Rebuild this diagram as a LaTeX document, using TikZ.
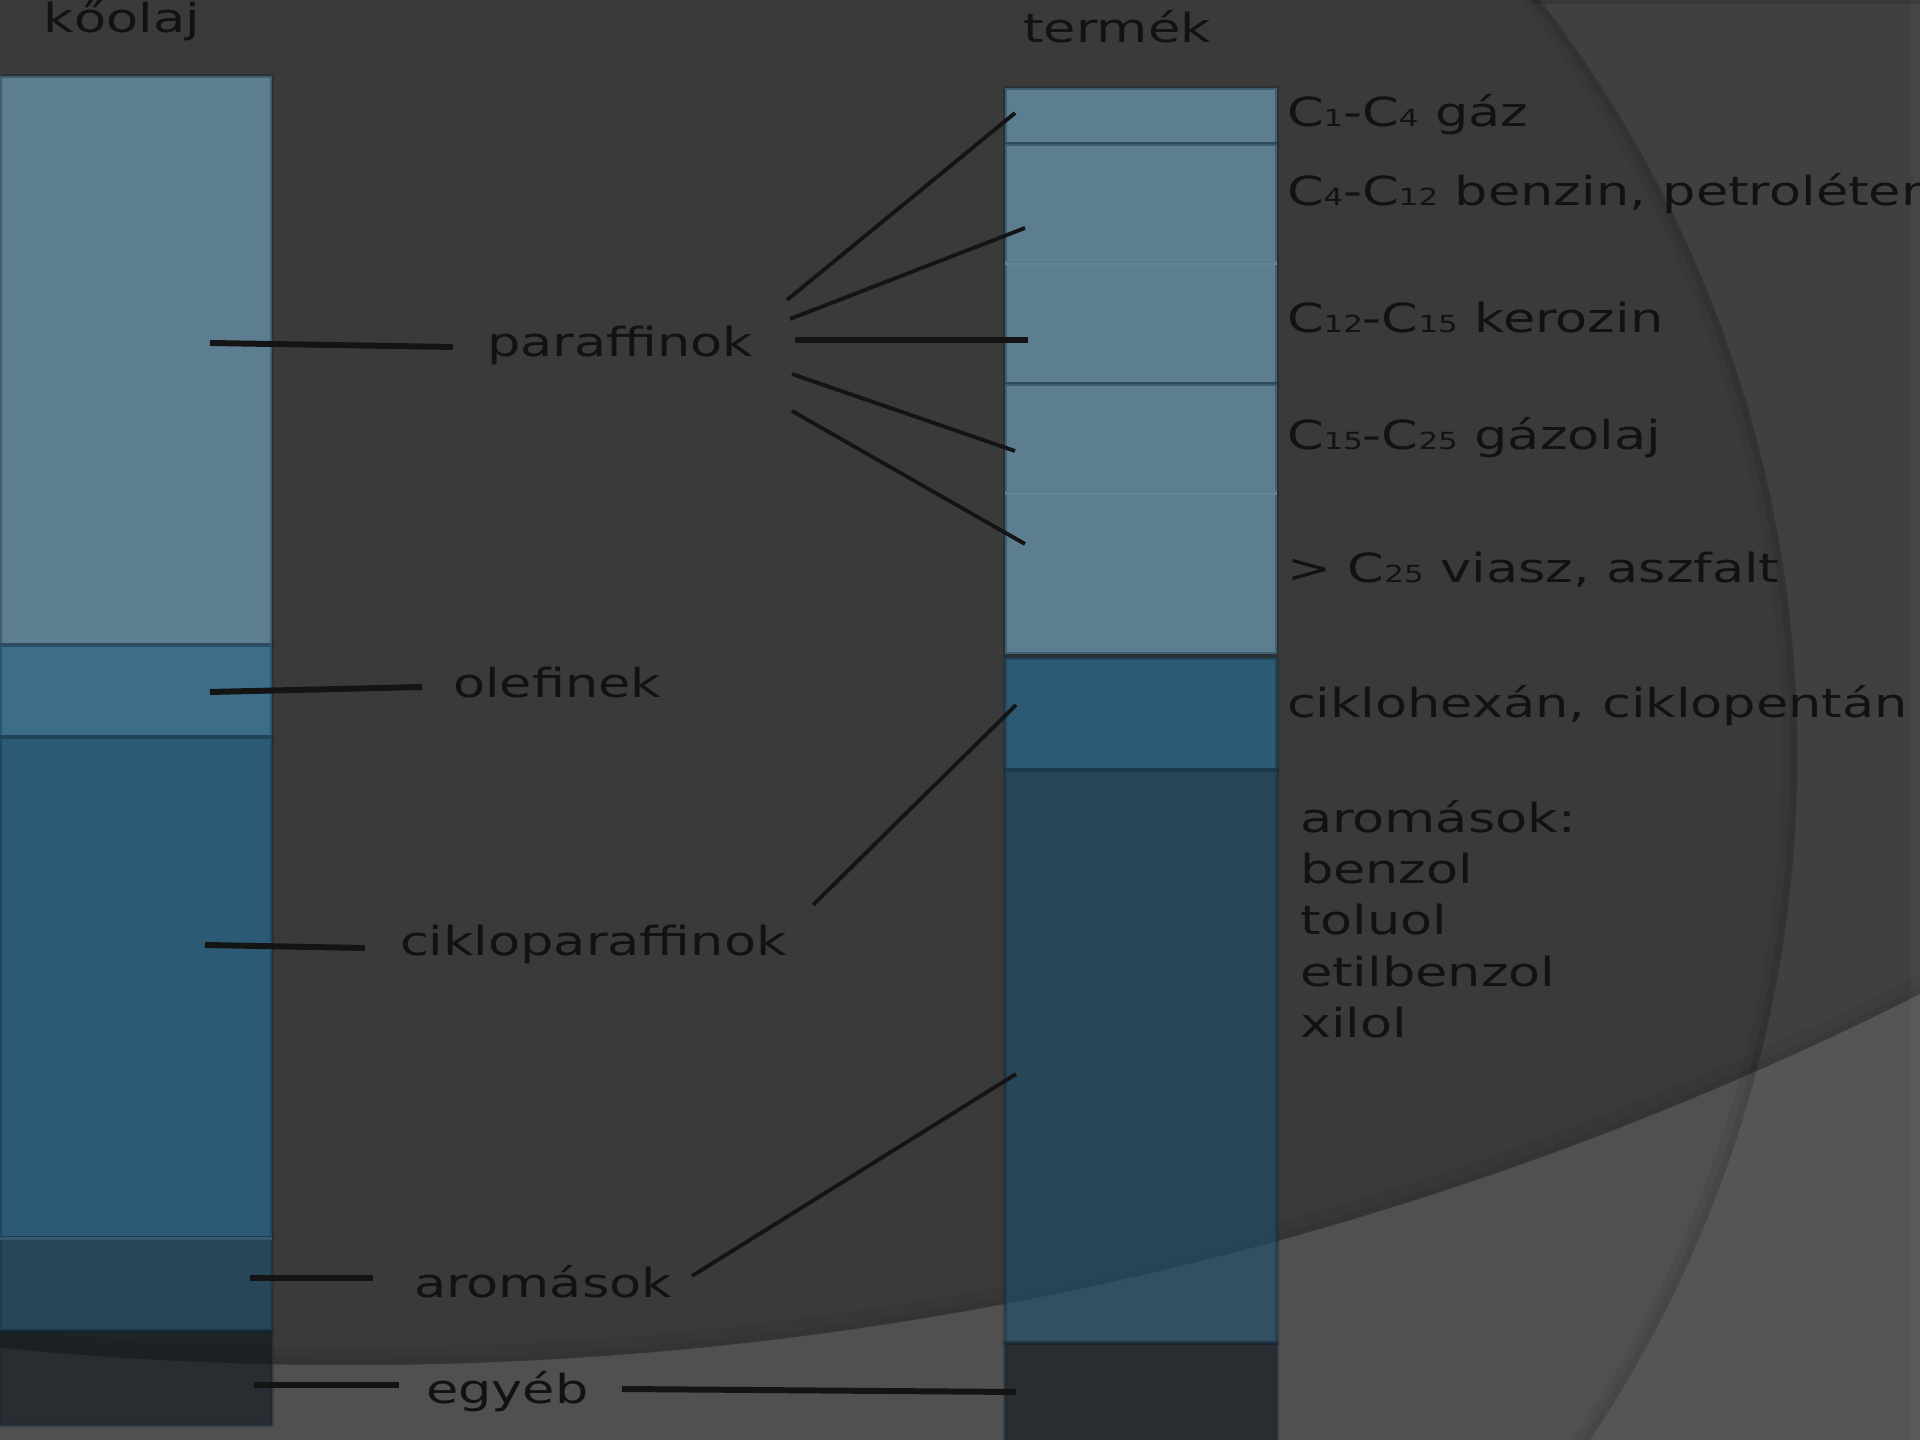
\documentclass[tikz,border=0pt]{standalone}
\usepackage{fontspec}
\setmainfont[FakeStretch=1.31]{DejaVu Sans}
\definecolor{bgc}{HTML}{3A3A3A}
\definecolor{txt}{HTML}{121212}
\definecolor{cpar}{HTML}{79B6D8}
\definecolor{colef}{HTML}{3E99CC}
\definecolor{ccyc}{HTML}{2276A4}
\definecolor{carom}{HTML}{195274}
\definecolor{cegy}{HTML}{091018}
\definecolor{segline}{HTML}{0F2533}
\definecolor{lightdiv}{HTML}{8FB6CC}
\definecolor{wire}{HTML}{141414}
\newcommand\csub[1]{{\fontsize{6.7pt}{7pt}\selectfont #1}}
\begin{document}
\begin{tikzpicture}[x=0.01cm,y=-0.01cm,
  seg/.style={draw=segline, draw opacity=0.35, line width=1.1pt, fill opacity=0.55,
    inner sep=0pt, outer sep=0pt, anchor=north west, minimum width=2.72cm},
  lbl/.style={text=txt, inner sep=0pt, outer sep=0pt, anchor=base west,
    font=\fontsize{11.4pt}{12pt}\selectfont},
  title/.style={lbl, anchor=base},
  wthick/.style={draw=wire, line width=1.7pt},
  wthin/.style={draw=wire, line width=1.1pt}]
\useasboundingbox (0,0) rectangle (1920,1440);
\begin{scope}
\clip (0,0) rectangle (1920,1440);
% background
\fill[bgc] (0,0) rectangle (1920,1440);
\fill[white, fill opacity=0.03, even odd rule] (0,0) rectangle (1920,1440) (562,755) circle[radius=12.35cm];
\fill[white, fill opacity=0.112, even odd rule] (0,0) rectangle (1920,1440) (350,-2136) circle[radius=34.99cm];
\draw[black, opacity=0.07, line width=2pt] (562,755) circle[radius=12.31cm];
\draw[black, opacity=0.05, line width=4pt] (562,755) circle[radius=12.27cm];
\draw[black, opacity=0.05, line width=2pt] (350,-2136) circle[radius=34.96cm];
\draw[black, opacity=0.04, line width=5pt] (350,-2136) circle[radius=34.90cm];
\draw[black, opacity=0.12, line width=1pt] (1530,2) -- (1920,2);
\fill[white, fill opacity=0.03] (1911,0) rectangle (1920,1440);

% left bar: koolaj
\node[seg, fill=cpar, minimum height=5.69cm] (Lpar) at (0,76) {};
\node[seg, fill=colef, minimum height=0.92cm] (Lole) at (0,645) {};
\node[seg, fill=ccyc, minimum height=5.01cm] (Lcyc) at (0,737) {};
\node[seg, fill=carom, minimum height=0.93cm] (Laro) at (0,1238) {};
\node[seg, fill=cegy, minimum height=0.94cm] (Legy) at (0,1331) {};

% right bar: termek
\node[seg, fill=cpar, minimum height=0.56cm] (R1) at (1005,88) {};
\node[seg, fill=cpar, minimum height=1.19cm] (R2) at (1005,144) {};
\node[seg, fill=cpar, minimum height=1.21cm] (R3) at (1005,263) {};
\node[seg, fill=cpar, minimum height=1.09cm] (R4) at (1005,384) {};
\node[seg, fill=cpar, minimum height=1.61cm] (R5) at (1005,493) {};
\node[seg, fill=ccyc, minimum height=1.12cm] (Rcyc) at (1005,658) {};
\node[seg, fill=carom, minimum height=5.73cm] (Raro) at (1005,770) {};
\node[seg, fill=cegy, minimum height=1.10cm] (Regy) at (1005,1343) {};
\draw[lightdiv, opacity=0.45, line width=1pt] (R2.south west) -- (R2.south east);
\draw[lightdiv, opacity=0.45, line width=1pt] (R4.south west) -- (R4.south east);
\draw[lightdiv, opacity=0.25, line width=1pt] (Lcyc.south west) -- (Lcyc.south east);

% titles
\node[title] (tko) at (122,33) {kőolaj};
\node[title] (tte) at (1117,43) {termék};

% left labels
\node[lbl] (par) at (487,357) {paraffinok};
\node[lbl] (ole) at (453,698) {olefinek};
\node[lbl] (cyc) at (400,956) {cikloparaffinok};
\node[lbl] (aro) at (414,1298) {aromások};
\node[lbl] (egy) at (426,1403) {egyéb};

% right labels
\node[lbl] (p1) at (1287,127) {C\csub{1}-C\csub{4} gáz};
\node[lbl] (p2) at (1287,206) {C\csub{4}-C\csub{12} benzin, petroléter};
\node[lbl] (p3) at (1287,333) {C\csub{12}-C\csub{15} kerozin};
\node[lbl] (p4) at (1287,450) {C\csub{15}-C\csub{25} gázolaj};
\node[lbl] (p5) at (1287,583) {> C\csub{25} viasz, aszfalt};
\node[lbl] (pc) at (1287,718) {ciklohexán, ciklopentán};
\node[lbl] (pa1) at (1300,833) {aromások:};
\node[lbl] (pa2) at (1300,884) {benzol};
\node[lbl] (pa3) at (1300,935) {toluol};
\node[lbl] (pa4) at (1300,987) {etilbenzol};
\node[lbl] (pa5) at (1300,1038) {xilol};

% connector end points
\coordinate (a1) at (210,343); \coordinate (a2) at (453,347);
\coordinate (b1) at (210,692); \coordinate (b2) at (422,687);
\coordinate (c1) at (205,945); \coordinate (c2) at (365,948);
\coordinate (d1) at (250,1278); \coordinate (d2) at (373,1278);
\coordinate (e1) at (254,1385); \coordinate (e2) at (399,1385);

\coordinate (f1s) at (787,300); \coordinate (f1e) at (1015,113);
\coordinate (f2s) at (790,319); \coordinate (f2e) at (1025,228);
\coordinate (f3s) at (795,340); \coordinate (f3e) at (1028,340);
\coordinate (f4s) at (792,374); \coordinate (f4e) at (1015,451);
\coordinate (f5s) at (792,411); \coordinate (f5e) at (1025,544);
\coordinate (gs) at (813,905); \coordinate (ge) at (1016,705);
\coordinate (hs) at (692,1276); \coordinate (he) at (1016,1074);
\coordinate (is) at (622,1389); \coordinate (ie) at (1016,1392);

% connectors, left
\draw[wthick] (a1) -- (a2);
\draw[wthick] (b1) -- (b2);
\draw[wthick] (c1) -- (c2);
\draw[wthick] (d1) -- (d2);
\draw[wthick] (e1) -- (e2);
% connectors, right
\draw[wthin] (f1s) -- (f1e);
\draw[wthin] (f2s) -- (f2e);
\draw[wthick] (f3s) -- (f3e);
\draw[wthin] (f4s) -- (f4e);
\draw[wthin] (f5s) -- (f5e);
\draw[wthin] (gs) -- (ge);
\draw[wthin] (hs) -- (he);
\draw[wthick] (is) -- (ie);
\end{scope}
\end{tikzpicture}
\end{document}
